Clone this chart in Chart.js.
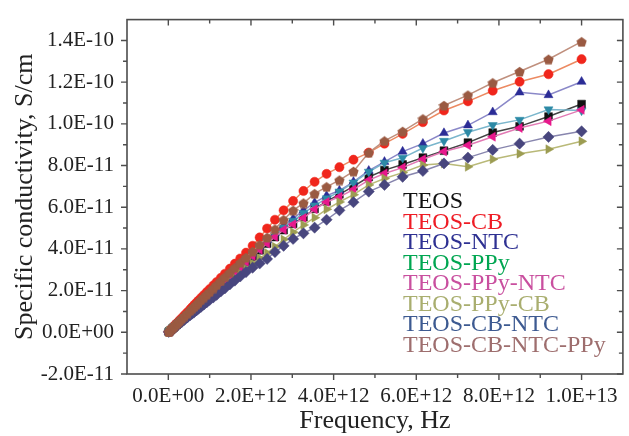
<!DOCTYPE html>
<html><head><meta charset="utf-8">
<script src="https://cdn.jsdelivr.net/npm/chart.js@4.4.0/dist/chart.umd.min.js"></script>
<style>html,body{margin:0;padding:0;background:#fff;}canvas{display:block;}</style>
</head><body>
<canvas id="c" width="629" height="436"></canvas>
<script>
// Frequency in units of 1E12 Hz
const frequencyE12 = [0.01,0.03,0.06,0.10,0.13,0.16,0.20,0.24,0.28,0.33,0.39,0.46,0.53,0.58,0.63,0.68,0.73,0.79,0.86,0.93,1.00,1.09,1.17,1.27,1.37,1.49,1.61,1.74,1.88,2.04,2.21,2.39,2.58,2.79,3.02,3.27,3.54,3.83,4.14,4.48,4.85,5.23,5.67,6.16,6.67,7.25,7.85,8.50,9.20,10.0];
// Conductivity in units of 1E-11 S/cm
const teos = [0.02,0.05,0.11,0.18,0.23,0.29,0.36,0.43,0.50,0.59,0.70,0.82,0.94,1.03,1.12,1.21,1.30,1.41,1.53,1.66,1.78,1.94,2.08,2.26,2.44,2.65,2.87,3.10,3.35,3.63,3.93,4.25,4.57,4.90,5.20,5.52,5.92,6.28,6.62,7.00,7.45,7.78,8.05,8.38,8.71,9.10,9.58,9.88,10.35,10.95];
const teosCB = [0.02,0.06,0.13,0.21,0.27,0.34,0.42,0.50,0.59,0.69,0.82,0.96,1.11,1.21,1.32,1.42,1.52,1.65,1.79,1.93,2.07,2.25,2.41,2.61,2.81,3.05,3.29,3.54,3.82,4.15,4.55,4.98,5.40,5.85,6.30,6.78,7.22,7.60,7.92,8.28,8.62,9.05,9.52,10.08,10.64,11.08,11.59,12.02,12.38,13.10];
const teosNTC = [0.02,0.06,0.11,0.19,0.24,0.30,0.37,0.44,0.52,0.61,0.72,0.85,0.98,1.07,1.17,1.26,1.35,1.46,1.59,1.72,1.85,2.02,2.16,2.35,2.53,2.76,2.98,3.22,3.48,3.77,4.09,4.42,4.77,5.10,5.45,5.85,6.22,6.55,6.80,7.22,7.75,8.18,8.67,9.05,9.56,9.93,10.56,11.51,11.38,12.02];
const teosPPy = [0.02,0.06,0.11,0.18,0.24,0.29,0.37,0.44,0.51,0.60,0.71,0.84,0.97,1.06,1.15,1.24,1.33,1.44,1.57,1.70,1.83,1.99,2.14,2.32,2.50,2.72,2.94,3.18,3.43,3.72,4.03,4.35,4.68,5.02,5.35,5.72,6.08,6.42,6.75,7.18,7.70,8.13,8.37,8.84,9.18,9.60,9.94,10.19,10.69,10.64];
const teosPPyNTC = [0.02,0.05,0.11,0.18,0.23,0.29,0.36,0.43,0.50,0.59,0.70,0.82,0.95,1.04,1.13,1.22,1.31,1.42,1.54,1.67,1.79,1.95,2.10,2.28,2.46,2.67,2.89,3.12,3.37,3.66,3.96,4.26,4.58,4.92,5.18,5.48,5.90,6.25,6.50,6.85,7.30,7.62,7.90,8.30,8.67,8.97,9.38,9.80,10.13,10.67];
const teosPPyCB = [0.02,0.05,0.10,0.16,0.21,0.26,0.33,0.39,0.45,0.53,0.63,0.74,0.86,0.94,1.02,1.10,1.18,1.28,1.39,1.51,1.62,1.77,1.90,2.06,2.22,2.42,2.61,2.82,3.05,3.30,3.55,3.80,4.10,4.45,4.80,5.15,5.50,5.90,6.25,6.60,7.07,7.38,7.66,8.02,8.10,7.94,8.30,8.57,8.78,9.16];
const teosCBNTC = [0.02,0.05,0.09,0.16,0.20,0.25,0.31,0.37,0.43,0.51,0.60,0.71,0.82,0.90,0.97,1.05,1.13,1.22,1.33,1.44,1.55,1.68,1.80,1.96,2.11,2.30,2.48,2.68,2.89,3.10,3.30,3.52,3.85,4.15,4.48,4.75,5.02,5.40,5.85,6.24,6.75,7.07,7.46,7.74,8.10,8.38,8.75,9.05,9.37,9.64];
const teosCBNTCPPy = [0.02,0.06,0.12,0.20,0.26,0.32,0.40,0.48,0.56,0.66,0.78,0.91,1.05,1.15,1.24,1.34,1.44,1.56,1.69,1.82,1.95,2.12,2.28,2.47,2.66,2.88,3.10,3.34,3.59,3.88,4.20,4.55,4.95,5.40,5.85,6.20,6.65,6.98,7.30,7.72,8.62,9.18,9.64,10.24,10.88,11.38,11.97,12.51,13.10,13.94];

const seriesNames = ['TEOS','TEOS-CB','TEOS-NTC','TEOS-PPy','TEOS-PPy-NTC','TEOS-PPy-CB','TEOS-CB-NTC','TEOS-CB-NTC-PPy'];
const seriesValues = [teos, teosCB, teosNTC, teosPPy, teosPPyNTC, teosPPyCB, teosCBNTC, teosCBNTCPPy];

const xTickValuesE12 = [0, 2, 4, 6, 8, 10];
const xTickLabels = ['0.0E+00','2.0E+12','4.0E+12','6.0E+12','8.0E+12','1.0E+13'];
const yTickValuesE11 = [-2, 0, 2, 4, 6, 8, 10, 12, 14];
const yTickLabels = ['-2.0E-11','0.0E+00','2.0E-11','4.0E-11','6.0E-11','8.0E-11','1.0E-10','1.2E-10','1.4E-10'];

// styles
const FONT = '"Liberation Serif", "Times New Roman", serif';
const markerColors = ['#111111','#f0261c','#2b2c96','#2d8aa6','#e8188c','#9c9c52','#48467e','#9a5a42'];
const lineColors   = ['#444444','#ec8a62','#8a88c8','#7ab6cc','#e27ab4','#b9b978','#8886ae','#c0907e'];
const legendColors = ['#111111','#ee1c25','#2e3192','#00a651','#c94f9f','#a9ae6f','#3d5a91','#9e6e6e'];

function pentagon(color, size) {
  const c = document.createElement('canvas');
  c.width = size; c.height = size;
  const g = c.getContext('2d');
  const r = size / 2;
  g.fillStyle = color;
  g.beginPath();
  for (let k = 0; k < 5; k++) {
    const a = -Math.PI / 2 + k * 2 * Math.PI / 5;
    const px = r + r * 0.98 * Math.cos(a), py = r + 0.6 + r * 0.98 * Math.sin(a);
    if (k === 0) g.moveTo(px, py); else g.lineTo(px, py);
  }
  g.closePath(); g.fill();
  return c;
}

const pointStyles = ['rect','circle','triangle','triangle','triangle','triangle','rectRot', pentagon(markerColors[7], 11)];
const pointRotations = [0, 0, 0, 180, 270, 90, 0, 0];
const pointRadii = [5.5, 4.6, 5.2, 5.2, 5.2, 5.2, 5.6, 5.5];

const datasets = seriesNames.map((name, i) => ({
  label: name,
  data: frequencyE12.map((f, j) => ({ x: f * 1e12, y: seriesValues[i][j] * 1e-11 })),
  showLine: true,
  borderColor: lineColors[i],
  borderWidth: 1.5,
  backgroundColor: markerColors[i],
  pointBackgroundColor: markerColors[i],
  pointBorderColor: markerColors[i],
  pointBorderWidth: 0.5,
  pointStyle: pointStyles[i],
  pointRotation: pointRotations[i],
  pointRadius: pointRadii[i],
  order: seriesNames.length - 1 - i,
  tension: 0
}));

const framePlugin = {
  id: 'frame',
  afterDatasetsDraw(chart) {
    const { ctx, chartArea: a, scales: { x, y } } = chart;
    ctx.save();
    ctx.strokeStyle = '#4d4d4d';
    ctx.lineWidth = 1.6;
    ctx.strokeRect(a.left, a.top, a.right - a.left, a.bottom - a.top);
    ctx.lineWidth = 1.4;
    ctx.beginPath();
    for (let k = 0; k <= 10; k++) {
      const px = x.getPixelForValue(k * 1e12);
      const len = k % 2 === 0 ? 6 : 4;
      ctx.moveTo(px, a.bottom); ctx.lineTo(px, a.bottom + len);
      ctx.moveTo(px, a.top); ctx.lineTo(px, a.top + len);
    }
    for (let k = -2; k <= 14; k++) {
      const py = y.getPixelForValue(k * 1e-11);
      const len = k % 2 === 0 ? 6 : 4;
      ctx.moveTo(a.left, py); ctx.lineTo(a.left - len, py);
      ctx.moveTo(a.right, py); ctx.lineTo(a.right - len, py);
    }
    ctx.stroke();
    ctx.restore();
  }
};

const textLegendPlugin = {
  id: 'textLegend',
  afterDraw(chart) {
    const ctx = chart.ctx;
    ctx.save();
    ctx.font = '24px ' + FONT;
    ctx.textBaseline = 'middle';
    ctx.textAlign = 'left';
    chart.data.datasets.forEach((ds, i) => {
      ctx.fillStyle = legendColors[i];
      ctx.fillText(ds.label, 403, 202 + i * 20.5);
    });
    ctx.restore();
  }
};

new Chart(document.getElementById('c'), {
  type: 'scatter',
  data: { datasets },
  options: {
    responsive: false,
    animation: false,
    devicePixelRatio: 1,
    layout: { padding: { top: 16, right: 6, left: 0, bottom: 0 } },
    plugins: { legend: { display: false }, tooltip: { enabled: false } },
    scales: {
      x: {
        type: 'linear', min: -1e12, max: 1.1e13,
        afterBuildTicks: s => { s.ticks = xTickValuesE12.map(v => ({ value: v * 1e12 })); },
        afterFit: s => { s.height = 62; },
        grid: { display: false, drawTicks: true, tickLength: 6 },
        border: { display: false },
        ticks: { autoSkip: false, maxRotation: 0, padding: 4, color: '#222', font: { family: FONT, size: 21 },
                 callback: (v, i) => xTickLabels[i] },
        title: { display: true, text: 'Frequency, Hz', color: '#222', font: { family: FONT, size: 26, lineHeight: 1 }, padding: { top: 0, bottom: 2 } }
      },
      y: {
        type: 'linear', min: -2e-11, max: 1.5e-10,
        afterBuildTicks: s => { s.ticks = yTickValuesE11.map(v => ({ value: v * 1e-11 })); },
        afterFit: s => { s.width = 127; },
        grid: { display: false, drawTicks: true, tickLength: 6 },
        border: { display: false },
        ticks: { autoSkip: false, padding: 7, color: '#222', font: { family: FONT, size: 21 },
                 callback: (v, i) => yTickLabels[i] },
        title: { display: true, text: 'Specific conductivity, S/cm', color: '#222', font: { family: FONT, size: 26, lineHeight: 1 }, padding: { top: 12, bottom: 0 } }
      }
    }
  },
  plugins: [framePlugin, textLegendPlugin]
});
</script>
</body></html>
